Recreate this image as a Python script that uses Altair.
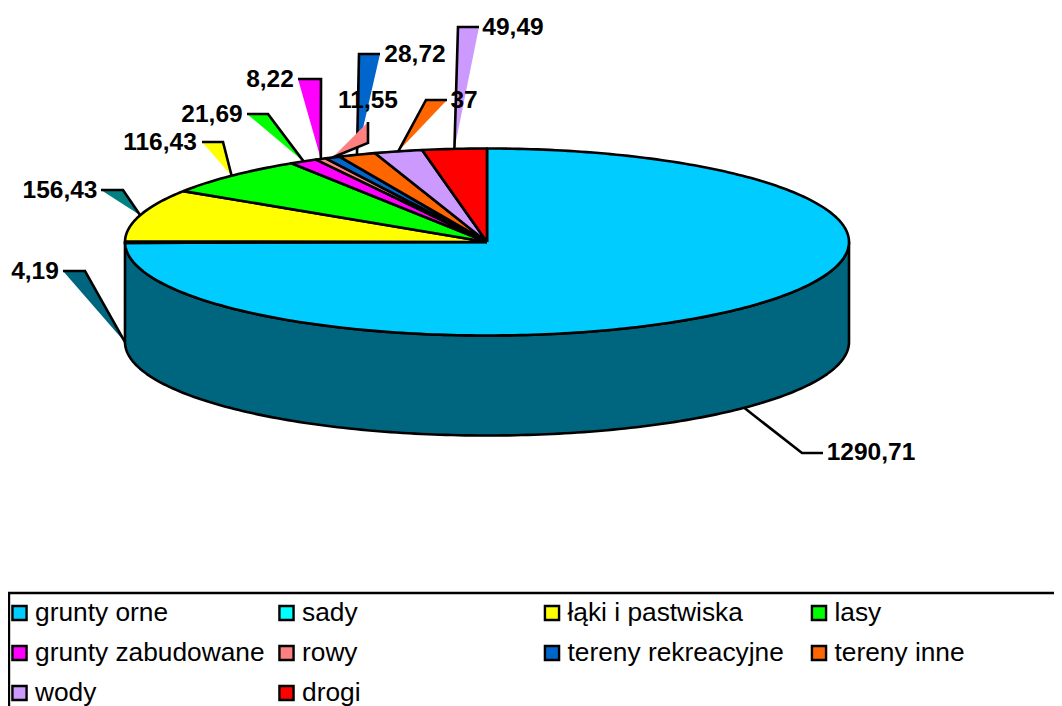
import math
import altair as alt
import pandas as pd

# ---- chart values ----
categories = ["grunty orne", "sady", "łąki i pastwiska", "lasy", "grunty zabudowane",
              "rowy", "tereny rekreacyjne", "tereny inne", "wody", "drogi"]
values = [1290.71, 4.19, 156.43, 116.43, 21.69, 8.22, 11.55, 28.72, 37, 49.49]
value_labels = ["1290,71", "4,19", "156,43", "116,43", "21,69", "8,22", "11,55", "28,72", "37", "49,49"]
slice_colors = ["#00CCFF", "#00FFFF", "#FFFF00", "#00FF00", "#FF00FF",
                "#FF8080", "#0066CC", "#FF6600", "#CC99FF", "#FF0000"]

# ---- layout (reference pixels) ----
CX, CY, RX, RY, DEPTH = 487, 242, 362, 93.5, 100
SIDE = "#006680"
# callout fill, elbow, tip, label centre: one per slice, in slice order
callout_fill = [None, "#006680", "#008080", "#FFFF00", "#00FF00",
                "#FF00FF", "#FF8080", "#0066CC", "#FF6600", "#CC99FF"]
callout_elbow = [(802, 453), (85, 271), (123, 190), (223, 142), (268, 114),
                 (321, 79), (368, 143), (359, 54), (426, 100), (458, 27)]
callout_tip = [(823, 453), (63, 271), (101, 190), (202, 142), (247, 114),
               (298, 79), (368, 122), (380, 54), (447, 100), (479, 27)]
label_pos = [(871, 453), (35, 272), (60, 191), (160, 143), (212, 115),
             (270, 80), (368, 101), (415, 55), (464, 101), (513, 28)]
legend_col_x = [19.5, 286.5, 552, 819]
legend_row_y = [613, 653, 693]
legend_text_dx = 15.5

X = alt.X("x:Q", scale=alt.Scale(domain=[8, 1054]), axis=None)
Y = alt.Y("y:Q", scale=alt.Scale(domain=[706, 8]), axis=None)
LINE = 2.6


def rim(a, drop=0.0):
    r = math.radians(a)
    return (CX + RX * math.sin(r), CY - RY * math.cos(r) + drop)


def arc(a0, a1, drop=0.0):
    n = max(2, int(abs(a1 - a0)) + 2)
    return [rim(a0 + (a1 - a0) * i / (n - 1), drop) for i in range(n)]


def path(points, **mark):
    df = pd.DataFrame([{"x": p[0], "y": p[1], "i": i} for i, p in enumerate(points)])
    return alt.Chart(df).mark_line(clip=False, **mark).encode(x=X, y=Y, order="i:Q")


total = sum(values)
angles = [0.0]
for v in values:
    angles.append(angles[-1] + v / total * 360)
# slices are drawn clockwise from 12 o'clock
layers = []

# side wall
side = [(CX - RX, CY)] + arc(270, 90, DEPTH) + [(CX + RX, CY)] + arc(90, 270)
layers.append(path(side + side[:1], fill=SIDE, stroke="black", strokeWidth=LINE, strokeJoin="round"))

# top wedges
for k, c in enumerate(slice_colors):
    pts = [(CX, CY)] + arc(angles[k], angles[k + 1]) + [(CX, CY)]
    layers.append(path(pts, fill=c, stroke="black", strokeWidth=LINE, strokeJoin="round"))

# callouts, on the rim at each slice's middle angle
draw_order = [0, 1, 2, 3, 4, 5, 7, 6, 8, 9]
for k in draw_order:
    mid = (angles[k] + angles[k + 1]) / 2
    anchor = rim(mid, DEPTH if 90 < mid <= 270 else 0)
    if callout_fill[k]:
        tri = [anchor, callout_elbow[k], callout_tip[k], anchor]
        layers.append(path(tri, fill=callout_fill[k], strokeWidth=0, strokeOpacity=0))
    line = [anchor, callout_elbow[k], callout_tip[k]]
    layers.append(path(line, stroke="black", strokeWidth=LINE))

# value labels
lab = pd.DataFrame({"x": [p[0] for p in label_pos], "y": [p[1] for p in label_pos], "t": value_labels})
layers.append(alt.Chart(lab).mark_text(font="Liberation Sans", fontSize=24.5, fontWeight="bold",
                                       color="black", align="center", baseline="middle")
              .encode(x=X, y=Y, text="t:N"))

# legend frame
frame = pd.DataFrame({"x": [9], "x2": [1070], "y": [593], "y2": [720]})
layers.append(alt.Chart(frame).mark_rect(fill="white", stroke="black", strokeWidth=2.4, clip=False)
              .encode(x=X, x2="x2:Q", y=Y, y2="y2:Q"))

# legend entries
rows = []
for k, name in enumerate(categories):
    rows.append({"x": legend_col_x[k % 4], "y": legend_row_y[k // 4], "name": name, "c": slice_colors[k]})
leg = pd.DataFrame(rows)
layers.append(alt.Chart(leg).mark_square(size=200, opacity=1, filled=True, stroke="black", strokeWidth=2.4, clip=False)
              .encode(x=X, y=Y, color=alt.Color("c:N", scale=None, legend=None)))
leg["tx"] = leg["x"] + legend_text_dx
layers.append(alt.Chart(leg).mark_text(font="Liberation Sans", fontSize=26.3, color="black",
                                       align="left", baseline="middle")
              .encode(x=alt.X("tx:Q", scale=alt.Scale(domain=[8, 1054]), axis=None), y=Y, text="name:N"))

chart = (alt.layer(*layers)
         .properties(width=1046, height=698, padding=0, autosize=alt.AutoSizeParams(type="none"),
                     background="white")
         .configure_view(stroke=None))

chart.save("out.html", embed_options={"renderer": "svg", "actions": False})
